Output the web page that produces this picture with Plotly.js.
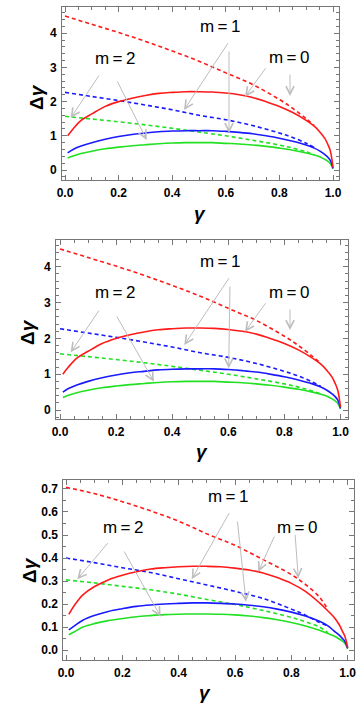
<!DOCTYPE html>
<html>
<head>
<meta charset="utf-8">
<script src="https://cdn.plot.ly/plotly-3.0.1.min.js"></script>
<style>
  html, body { margin: 0; padding: 0; background: #fff; }
  #chart { width: 356px; height: 712px; }
</style>
</head>
<body>
<div id="chart"></div>
<script>
// x grids (gamma)
var xSolid = [0.01, 0.03, 0.06, 0.1, 0.15, 0.2, 0.25, 0.3, 0.35, 0.4, 0.45, 0.5, 0.55,
  0.6, 0.65, 0.7, 0.75, 0.8, 0.85, 0.9, 0.93, 0.95, 0.97, 0.98, 0.99, 1.0];
var xDashed = [0, 0.1, 0.2, 0.3, 0.4, 0.5, 0.6, 0.7, 0.8, 0.85, 0.9, 0.93];

// top and middle panels (same curves)
var redSolidA = [1.0, 1.2, 1.45, 1.64, 1.86, 2.0, 2.1, 2.18, 2.24, 2.27, 2.29, 2.29, 2.28,
  2.25, 2.2, 2.12, 2.0, 1.86, 1.68, 1.45, 1.28, 1.12, 0.92, 0.76, 0.56, 0.08];
var blueSolidA = [0.5, 0.6, 0.7, 0.8, 0.9, 0.98, 1.04, 1.08, 1.12, 1.14, 1.15, 1.15, 1.15,
  1.13, 1.1, 1.06, 1.0, 0.93, 0.84, 0.73, 0.64, 0.56, 0.45, 0.38, 0.28, 0.05];
var greenSolidA = [0.35, 0.41, 0.48, 0.55, 0.62, 0.67, 0.71, 0.74, 0.77, 0.79, 0.8, 0.8, 0.8,
  0.78, 0.76, 0.73, 0.69, 0.64, 0.58, 0.5, 0.44, 0.39, 0.31, 0.26, 0.19, 0.03];
var redDashedA = [4.5, 4.26, 4.02, 3.76, 3.48, 3.18, 2.84, 2.5, 2.06, 1.8, 1.5, 1.3];
var blueDashedA = [2.27, 2.15, 2.03, 1.9, 1.76, 1.6, 1.47, 1.3, 1.08, 0.95, 0.78, 0.66];
var greenDashedA = [1.57, 1.49, 1.41, 1.32, 1.22, 1.11, 1.0, 0.87, 0.73, 0.64, 0.53, 0.45];

// bottom panel
var redSolidB = [0.155, 0.195, 0.24, 0.275, 0.305, 0.325, 0.34, 0.352, 0.358, 0.362, 0.364, 0.364, 0.362,
  0.356, 0.348, 0.335, 0.315, 0.29, 0.255, 0.205, 0.17, 0.145, 0.11, 0.085, 0.06, 0.01];
var blueSolidB = [0.088, 0.105, 0.13, 0.15, 0.168, 0.18, 0.19, 0.196, 0.2, 0.203, 0.205, 0.205, 0.203,
  0.2, 0.195, 0.188, 0.178, 0.165, 0.148, 0.125, 0.105, 0.085, 0.065, 0.052, 0.038, 0.008];
var greenSolidB = [0.067, 0.08, 0.1, 0.115, 0.128, 0.137, 0.145, 0.15, 0.154, 0.156, 0.157, 0.157, 0.156,
  0.153, 0.148, 0.141, 0.132, 0.12, 0.105, 0.086, 0.072, 0.062, 0.048, 0.04, 0.03, 0.005];
var redDashedB = [0.707, 0.68, 0.645, 0.605, 0.56, 0.505, 0.455, 0.393, 0.328, 0.285, 0.23, 0.175];
var blueDashedB = [0.4, 0.38, 0.358, 0.337, 0.31, 0.283, 0.255, 0.224, 0.178, 0.152, 0.12, 0.105];
var greenDashedB = [0.305, 0.292, 0.277, 0.262, 0.243, 0.22, 0.198, 0.172, 0.142, 0.123, 0.1, 0.075];

var labels = ['m=0', 'm=1', 'm=2'];

var RED = '#ff1a1a', BLUE = '#1a1aff', GREEN = '#22e022';
var W = 356, H = 712;

function curve(x, y, color, dashed, ax) {
  return {
    x: x, y: y, type: 'scatter', mode: 'lines',
    xaxis: 'x' + ax, yaxis: 'y' + ax,
    line: { color: color, width: 1.6, shape: 'spline', dash: dashed ? '4px,3px' : 'solid' },
    hoverinfo: 'skip',
  };
}

function panelTraces(ax, rs, bs, gs, rd, bd, gd) {
  return [
    curve(xDashed, rd, RED, true, ax),
    curve(xDashed, bd, BLUE, true, ax),
    curve(xDashed, gd, GREEN, true, ax),
    curve(xSolid, gs, GREEN, false, ax),
    curve(xSolid, bs, BLUE, false, ax),
    curve(xSolid, rs, RED, false, ax),
  ];
}

var data = []
  .concat(panelTraces('', redSolidA, blueSolidA, greenSolidA, redDashedA, blueDashedA, greenDashedA))
  .concat(panelTraces('2', redSolidA, blueSolidA, greenSolidA, redDashedA, blueDashedA, greenDashedA))
  .concat(panelTraces('3', redSolidB, blueSolidB, greenSolidB, redDashedB, blueDashedB, greenDashedB));

var tickFont = { family: 'Liberation Sans, Arial, sans-serif', size: 12, color: '#000', weight: 'bold' };

function xAx(l, r, range, anchor) {
  return {
    domain: [l / W, r / W], range: range, anchor: anchor,
    showline: true, linecolor: '#777', linewidth: 1, mirror: 'ticks',
    showgrid: false, zeroline: false,
    ticks: 'inside', ticklen: 5, tickcolor: '#777', dtick: 0.2, tick0: 0,
    tickformat: '.1f', tickfont: tickFont, ticklabelstandoff: 2, ticklabeloverflow: 'allow',
    minor: { dtick: 0.05, ticks: 'inside', ticklen: 3, tickcolor: '#777' },
  };
}

function yAx(top, bot, range, anchor, dtick, minorDtick, fmt) {
  return {
    domain: [1 - bot / H, 1 - top / H], range: range, anchor: anchor,
    showline: true, linecolor: '#777', linewidth: 1, mirror: 'ticks',
    showgrid: false, zeroline: false,
    ticks: 'inside', ticklen: 5, tickcolor: '#777', dtick: dtick, tick0: 0,
    tickformat: fmt, tickfont: tickFont, ticklabelstandoff: 2, ticklabeloverflow: 'allow',
    minor: { dtick: minorDtick, ticks: 'inside', ticklen: 3, tickcolor: '#777' },
  };
}

// annotations: pixel positions converted to paper
function txt(s, px, py, size, extra) {
  var a = {
    text: s, xref: 'paper', yref: 'paper', x: px / W, y: 1 - py / H,
    xanchor: 'center', yanchor: 'middle', showarrow: false,
    font: { family: 'Liberation Sans, Arial, sans-serif', size: size, color: '#000' },
  };
  for (var k in extra) a[k] = extra[k];
  return a;
}

function arrow(tailX, tailY, tipX, tipY) {
  return {
    text: '', xref: 'paper', yref: 'paper', x: tipX / W, y: 1 - tipY / H,
    ax: tailX - tipX, ay: tailY - tipY, showarrow: true,
    arrowhead: 5, arrowsize: 1.6, arrowwidth: 1, arrowcolor: '#bdbdbd', standoff: 0,
  };
}

function mLabel(s) {
  return s.replace('=', '\u2009=\u2009');
}

var annotations = [
  // top panel
  txt(mLabel(labels[1]), 220, 27, 17), txt(mLabel(labels[2]), 115, 58, 17), txt(mLabel(labels[0]), 289, 57, 17),
  arrow(100, 74, 70.7, 118), arrow(116.7, 80, 146.7, 140),
  arrow(229, 41.7, 184, 110), arrow(229, 50, 229, 133),
  arrow(266.7, 66.7, 245, 96.7), arrow(290, 73, 290, 96),
  txt('<b>Δ<i>γ</i></b>', 36, 97, 19, { textangle: -90 }),
  txt('<b><i>γ</i></b>', 200, 213, 19),
  // middle panel
  txt(mLabel(labels[1]), 220, 262, 17), txt(mLabel(labels[2]), 115, 293, 17), txt(mLabel(labels[0]), 289, 292, 17),
  arrow(100, 309, 70.7, 352.3), arrow(116, 315, 154, 381.7),
  arrow(230, 276.7, 184.3, 345), arrow(230, 285, 228.7, 368.3),
  arrow(266.7, 301.7, 245, 331.7), arrow(290, 308, 290, 330),
  txt('<b>Δ<i>γ</i></b>', 28, 332, 19, { textangle: -90 }),
  txt('<b><i>γ</i></b>', 202, 451, 19),
  // bottom panel
  txt(mLabel(labels[1]), 228, 497, 17), txt(mLabel(labels[2]), 123, 527, 17), txt(mLabel(labels[0]), 297, 527, 17),
  arrow(109, 541.7, 77.3, 579.3), arrow(123.3, 550, 160.7, 616.7),
  arrow(230, 511.7, 191.7, 579.3), arrow(237.3, 520, 246, 601.7),
  arrow(275, 535, 258.3, 571.7), arrow(295, 533.3, 298.3, 578.3),
  txt('<b>Δ<i>γ</i></b>', 29, 570, 19, { textangle: -90 }),
  txt('<b><i>γ</i></b>', 205, 692, 19),
];

var layout = {
  width: W, height: H,
  margin: { l: 0, r: 0, t: 0, b: 0 },
  paper_bgcolor: '#fff', plot_bgcolor: '#fff',
  showlegend: false,
  xaxis: xAx(62, 339, [-0.0112, 1.0224], 'y'),
  yaxis: yAx(7, 180, [-0.292, 4.766], 'x', 1, 0.2, 'd'),
  xaxis2: xAx(56, 347.5, [-0.0143, 1.025], 'y2'),
  yaxis2: yAx(240, 418.5, [-0.237, 4.749], 'x2', 1, 0.2, 'd'),
  xaxis3: xAx(63.3, 354, [-0.0096, 1.0224], 'y3'),
  yaxis3: yAx(480, 660, [-0.043, 0.739], 'x3', 0.1, 0.05, '.1f'),
  annotations: annotations,
};

Plotly.newPlot('chart', data, layout, { displayModeBar: false, staticPlot: true });
</script>
</body>
</html>
